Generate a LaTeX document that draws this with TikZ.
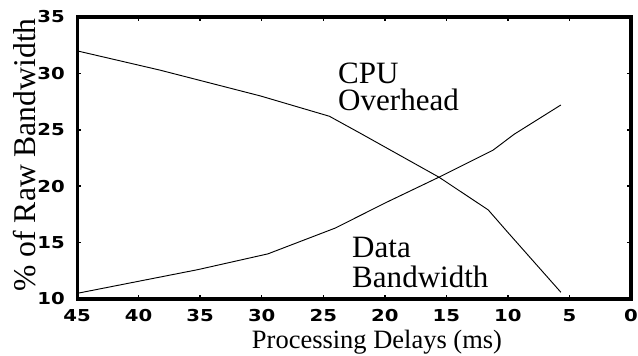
\documentclass[tikz,border=0pt]{standalone}
\usepackage{fontspec}
\setmainfont{Liberation Serif}
\newfontfamily\tickfont[FakeStretch=1.2]{DejaVu Sans}
\begin{document}
\begin{tikzpicture}[
    frame/.style={line width=2.6pt},
    tickmark/.style={line width=1.2pt},
    curve/.style={line width=0.8pt},
    ticklabel/.style={inner sep=0pt, font=\tickfont\bfseries\fontsize{14}{14}\selectfont},
    curvelabel/.style={inner sep=0pt, align=left, anchor=north west}
    ]
    \useasboundingbox (0,0) rectangle (19.14,10.65);
    \begin{scope}[x=-0.3693cm, y=0.3384cm, shift={(18.93cm,-1.704cm)}]
        % axes box
        \draw [frame] (45,10) rectangle (0,35);
        \foreach \x in {5,10,...,40} {
            \draw [tickmark] (\x,10) -- ++(0,0.12cm);
            \draw [tickmark] (\x,35) -- ++(0,-0.12cm);
        }
        \foreach \y in {15,20,25,30} {
            \draw [tickmark] (45,\y) -- ++(0.12cm,0);
            \draw [tickmark] (0,\y) -- ++(-0.12cm,0);
        }
        \foreach \x in {0,5,...,45}
            \node [ticklabel] (xt\x) at (\x,10) [yshift=-0.5cm] {\x};
        \foreach \y in {10,15,...,35}
            \node [ticklabel, anchor=east] (yt\y) at (45,\y) [xshift=-0.36cm] {\y};
        % CPU overhead
        \draw [curve] plot coordinates {(45,32) (38.3,30.3) (30.1,28.0) (24.5,26.2)
            (22,24.7) (15.6,20.8) (11.6,17.9) (10,15.9) (5.7,10.6)};
        % data bandwidth
        \draw [curve] plot coordinates {(45,10.5) (35.2,12.6) (29.5,14) (24,16.3)
            (20,18.5) (15.6,20.8) (11.2,23.2) (9.5,24.6) (5.7,27.2)};
    \end{scope}
    \node [curvelabel, font={\fontsize{26.5}{23}\selectfont}] (cpu) at (10.14,8.76) {CPU\\Overhead};
    \node [curvelabel, font={\fontsize{26.5}{25.6}\selectfont}] (data) at (10.56,3.54) {Data\\Bandwidth};
    \node [anchor=base, inner sep=0pt, font={\fontsize{22.6}{24}\selectfont}] (xtitle) at (11.31,0.2) {Processing Delays (ms)};
    \node [rotate=90, font={\fontsize{27}{28}\selectfont}] (ytitle) at (0.75,6.0) {\% of Raw Bandwidth};
\end{tikzpicture}
\end{document}
